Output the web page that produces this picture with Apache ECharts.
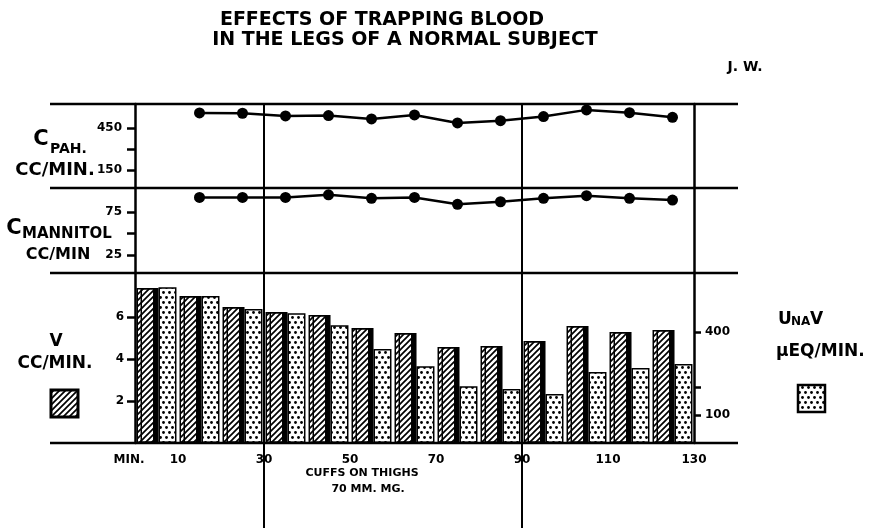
<!DOCTYPE html>
<html>
<head>
<meta charset="utf-8">
<script src="https://cdn.jsdelivr.net/npm/echarts@6/dist/echarts.min.js"></script>
<style>
    html, body { margin: 0; background: #fff; }
    #trappingBlood { width: 875px; height: 528px; }
</style>
</head>
<body>
<div id="trappingBlood"></div>
<script>
// clearance periods (minutes) for the two upper panels
let pointMinutes = [15, 25, 35, 45, 55, 65, 75, 85, 95, 105, 115, 125]
let cPah = [557, 555, 536, 538, 514, 543, 486, 502, 531, 579, 559, 526]
let cMannitol = [92, 92, 92, 95, 91, 92, 84, 87, 91, 94, 91, 89]
// urine collections, one pair of bars per 10 minutes
let barMinutes = [5, 15, 25, 35, 45, 55, 65, 75, 85, 95, 105, 115, 125]
let urineFlow = [7.38, 7.0, 6.48, 6.24, 6.1, 5.48, 5.24, 4.57, 4.62, 4.86, 5.57, 5.29, 5.38]
let sodiumExcretion = [562, 530, 483, 468, 425, 339, 277, 205, 195, 177, 256, 270, 285]
// axis ticks
let minuteLabels = [0, 10, 30, 50, 70, 90, 110, 130]
let cuffMinutes = [30, 90]
let pahTicks = [150, 300, 450]
let pahLabels = [150, 450]
let mannitolTicks = [25, 50, 75]
let mannitolLabels = [25, 75]
let flowTicks = [2, 4, 6]
let sodiumTicks = [100, 200, 400]
let sodiumLabels = [100, 400]

const FONT = 'DejaVu Sans'

function hatchPattern() {
    let c = document.createElement('canvas')
    c.width = 6
    c.height = 6
    let g = c.getContext('2d')
    g.fillStyle = '#fff'
    g.fillRect(0, 0, 6, 6)
    g.strokeStyle = '#000'
    g.lineWidth = 1.7
    g.beginPath()
    g.moveTo(-1, 7); g.lineTo(7, -1)
    g.moveTo(-1, 1); g.lineTo(1, -1)
    g.moveTo(5, 7); g.lineTo(7, 5)
    g.stroke()
    return c
}

function dotPattern() {
    let c = document.createElement('canvas')
    c.width = 6
    c.height = 10
    let g = c.getContext('2d')
    g.fillStyle = '#fff'
    g.fillRect(0, 0, 6, 10)
    g.fillStyle = '#000'
    g.beginPath(); g.arc(1.5, 2.5, 1.4, 0, Math.PI * 2); g.fill()
    g.beginPath(); g.arc(4.5, 7.5, 1.4, 0, Math.PI * 2); g.fill()
    return c
}

let hatch = { image: hatchPattern(), repeat: 'repeat' }
let dots = { image: dotPattern(), repeat: 'repeat' }

let labelStyle = { color: '#000', fontFamily: FONT, fontWeight: 'bold', fontSize: 12 }
let axisLineStyle = { show: true, lineStyle: { color: '#000', width: 2.5 } }

function leftAxis(grid, min, max, ticks, labels, margin) {
    return {
        type: 'value', gridIndex: grid, position: 'left', min: min, max: max,
        axisLine: axisLineStyle,
        axisTick: { show: true, length: 8, customValues: ticks, lineStyle: { color: '#000', width: 2.5 } },
        axisLabel: Object.assign({ customValues: labels, margin: margin }, labelStyle),
        splitLine: { show: false }
    }
}

function rightBorder(grid, min, max) {
    return {
        type: 'value', gridIndex: grid, position: 'right', min: min, max: max,
        axisLine: axisLineStyle, axisTick: { show: false }, axisLabel: { show: false },
        splitLine: { show: false }
    }
}

function hiddenMinutes(grid) {
    return { type: 'value', gridIndex: grid, min: 0, max: 130, show: false }
}

function text(str, x, y, size, align) {
    return {
        type: 'text', x: x, y: y, z: 10,
        style: {
            text: str, fill: '#000', font: 'bold ' + size + 'px "' + FONT + '"',
            textAlign: align || 'center', textVerticalAlign: 'middle',
            align: align || 'center', verticalAlign: 'middle'
        }
    }
}

function rule(x1, y1, x2, y2) {
    return { type: 'line', z: 10, shape: { x1: x1, y1: y1, x2: x2, y2: y2 }, style: { stroke: '#000', lineWidth: 2.5 } }
}

let chart = echarts.init(document.getElementById('trappingBlood'))
let option = {
    backgroundColor: '#fff',
    animation: false,
    grid: [
        { left: 135, right: 181, top: 104, height: 84 },
        { left: 135, right: 181, top: 188, height: 85 },
        { left: 135, right: 181, top: 273, height: 170 },
        { left: 135, right: 181, top: 104, height: 424 }
    ],
    xAxis: [
        hiddenMinutes(0),
        hiddenMinutes(1),
        { type: 'category', gridIndex: 2, position: 'top', data: barMinutes, show: false },
        {
            type: 'value', gridIndex: 2, position: 'bottom', min: 0, max: 130,
            axisLine: { show: false }, axisTick: { show: false }, splitLine: { show: false },
            axisLabel: Object.assign({
                customValues: minuteLabels, margin: 11,
                formatter: function(v) { return v === 0 ? '{m|MIN.}' : String(v) },
                rich: { m: { color: '#000', fontFamily: FONT, fontWeight: 'bold', fontSize: 12, padding: [0, 12, 0, 0] } }
            }, labelStyle)
        },
        {
            // cuffs on / cuffs off
            type: 'value', gridIndex: 3, min: 0, max: 130,
            axisLine: { show: false }, axisLabel: { show: false },
            axisTick: { show: false, customValues: cuffMinutes },
            splitLine: { show: true, lineStyle: { color: '#000', width: 2 } }
        }
    ],
    yAxis: [
        leftAxis(0, 21, 621, pahTicks, pahLabels, 13),
        rightBorder(0, 21, 621),
        leftAxis(1, 4, 103, mannitolTicks, mannitolLabels, 13),
        rightBorder(1, 4, 103),
        leftAxis(2, 0, 8.1, flowTicks, flowTicks, 11),
        {
            type: 'value', gridIndex: 2, position: 'right', min: 0, max: 613,
            axisLine: axisLineStyle,
            axisTick: { show: true, length: 7, customValues: sodiumTicks, lineStyle: { color: '#000', width: 2.5 } },
            axisLabel: Object.assign({ customValues: sodiumLabels, margin: 11 }, labelStyle),
            splitLine: { show: false }
        },
        { type: 'value', gridIndex: 3, min: 0, max: 1, show: false }
    ],
    series: [
        {
            name: 'C PAH', type: 'line', xAxisIndex: 0, yAxisIndex: 0,
            data: pointMinutes.map((m, i) => [m, cPah[i]]),
            symbol: 'circle', symbolSize: 11,
            itemStyle: { color: '#000' }, lineStyle: { color: '#000', width: 2.5 }
        },
        {
            name: 'C Mannitol', type: 'line', xAxisIndex: 1, yAxisIndex: 2,
            data: pointMinutes.map((m, i) => [m, cMannitol[i]]),
            symbol: 'circle', symbolSize: 11,
            itemStyle: { color: '#000' }, lineStyle: { color: '#000', width: 2.5 }
        },
        {
            name: 'V', type: 'bar', xAxisIndex: 2, yAxisIndex: 4,
            data: urineFlow, barWidth: 18, barGap: '22%',
            itemStyle: {
                color: hatch, borderColor: '#000', borderWidth: 1.5,
                shadowColor: '#000', shadowBlur: 0, shadowOffsetX: 4, shadowOffsetY: 0
            }
        },
        {
            name: 'UNaV', type: 'bar', xAxisIndex: 2, yAxisIndex: 5,
            data: sodiumExcretion, barWidth: 18,
            itemStyle: { color: dots, borderColor: '#000', borderWidth: 1.5 }
        },
        { type: 'line', xAxisIndex: 4, yAxisIndex: 6, data: [], silent: true }
    ],
    graphic: [
        rule(50, 104, 738, 104),
        rule(50, 188, 738, 188),
        rule(50, 273, 738, 273),
        rule(50, 443, 738, 443),
        text('EFFECTS OF TRAPPING BLOOD', 382, 20, 19),
        text('IN THE LEGS OF A NORMAL SUBJECT', 405, 40, 19),
        text('J. W.', 745, 67, 14),
        text('C', 41, 140, 21),
        text('PAH.', 50, 149, 14, 'left'),
        text('CC/MIN.', 55, 170, 18),
        text('C', 14, 229, 21),
        text('MANNITOL', 22, 234, 15, 'left'),
        text('CC/MIN', 58, 255, 16),
        text('V', 56, 342, 17),
        text('CC/MIN.', 55, 364, 17),
        text('U', 778, 320, 17, 'left'),
        text('NA', 791, 322, 12, 'left'),
        text('V', 810, 320, 17, 'left'),
        text('\u00b5EQ/MIN.', 776, 352, 17, 'left'),
        text('CUFFS ON THIGHS', 362, 473, 11),
        text('70 MM. MG.', 368, 489, 11),
        {
            type: 'rect', z: 10, shape: { x: 51, y: 390, width: 27, height: 27 },
            style: { fill: hatch, stroke: '#000', lineWidth: 3 }
        },
        {
            type: 'rect', z: 10, shape: { x: 798, y: 385, width: 27, height: 27 },
            style: { fill: dots, stroke: '#000', lineWidth: 2.5 }
        }
    ]
}
chart.setOption(option)
</script>
</body>
</html>
